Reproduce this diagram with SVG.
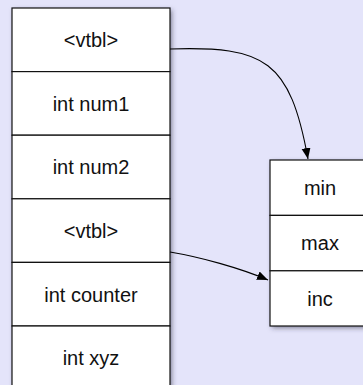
<svg xmlns="http://www.w3.org/2000/svg" width="363" height="385" viewBox="0 0 363 385">
  <style>
    .cell { fill: #ffffff; stroke: #111111; stroke-width: 1.2; }
    .label { font-family: "Liberation Sans", Arial, Helvetica, sans-serif; font-size: 20px; fill: #111111; text-anchor: middle; }
    .conn { fill: none; stroke: #000000; stroke-width: 1.1; }
  </style>
  <defs>
    <filter id="shadow" x="-20%" y="-20%" width="140%" height="140%">
      <feDropShadow dx="2" dy="2" stdDeviation="2.5" flood-color="#333344" flood-opacity="0.55"/>
    </filter>
    <marker id="arrow" markerUnits="userSpaceOnUse" markerWidth="12" markerHeight="10" refX="11" refY="4.5" orient="auto" viewBox="0 0 12 10">
      <path d="M0,0 L11,4.5 L0,9 z" fill="#000000"/>
    </marker>
  </defs>
  <rect x="0" y="0" width="363" height="385" fill="#e4e4fa"/>

  <g id="object">
    <rect x="12" y="8" width="158" height="382" fill="#ffffff" filter="url(#shadow)"/>
    <g id="obj-vtbl1">
      <rect class="cell" x="12" y="8" width="158" height="63.6"/>
      <text class="label" x="91" y="47">&lt;vtbl&gt;</text>
    </g>
    <g id="obj-num1">
      <rect class="cell" x="12" y="71.6" width="158" height="63.6"/>
      <text class="label" x="91" y="110.7">int num1</text>
    </g>
    <g id="obj-num2">
      <rect class="cell" x="12" y="135.2" width="158" height="63.6"/>
      <text class="label" x="91" y="174.3">int num2</text>
    </g>
    <g id="obj-vtbl2">
      <rect class="cell" x="12" y="198.8" width="158" height="63.6"/>
      <text class="label" x="91" y="237.9">&lt;vtbl&gt;</text>
    </g>
    <g id="obj-counter">
      <rect class="cell" x="12" y="262.4" width="158" height="63.6"/>
      <text class="label" x="91" y="301.5">int counter</text>
    </g>
    <g id="obj-xyz">
      <rect class="cell" x="12" y="326" width="158" height="63.6"/>
      <text class="label" x="91" y="365.1">int xyz</text>
    </g>
  </g>

  <g id="vtable">
    <rect x="270" y="160" width="100" height="166" fill="#ffffff" filter="url(#shadow)"/>
    <g id="vt-min">
      <rect class="cell" x="270" y="160" width="100" height="55.4"/>
      <text class="label" x="320" y="195">min</text>
    </g>
    <g id="vt-max">
      <rect class="cell" x="270" y="215.4" width="100" height="55.4"/>
      <text class="label" x="320" y="250.4">max</text>
    </g>
    <g id="vt-inc">
      <rect class="cell" x="270" y="270.8" width="100" height="55.2"/>
      <text class="label" x="320" y="305.8">inc</text>
    </g>
  </g>

  <g id="connectors">
    <path class="conn" d="M170,49 C265,46 290,60 308,159" marker-end="url(#arrow)"/>
    <path class="conn" d="M170,252 C200,257 240,268 268,280" marker-end="url(#arrow)"/>
  </g>
</svg>
